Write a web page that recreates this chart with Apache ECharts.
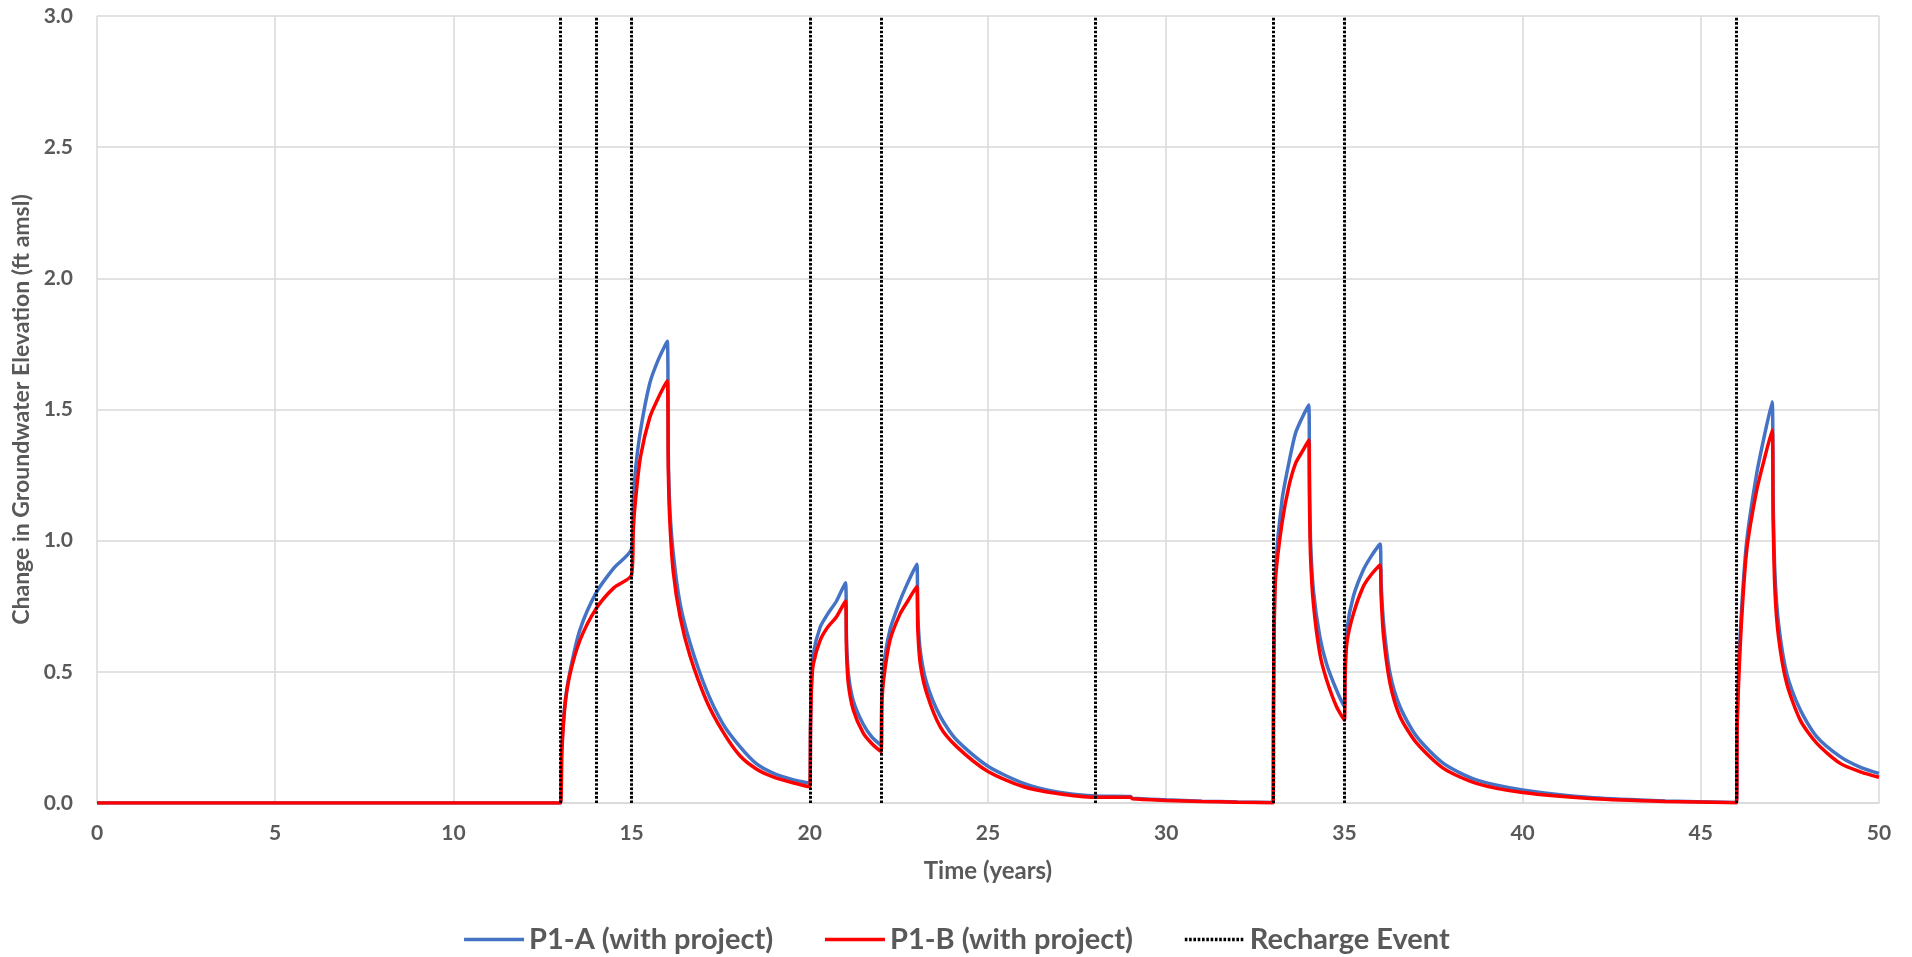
<!DOCTYPE html>
<html>
<head>
<meta charset="utf-8">
<script src="https://cdn.jsdelivr.net/npm/echarts@6/dist/echarts.min.js"></script>
<style>
html,body{margin:0;padding:0;background:#fff;}
#chart{width:1912px;height:957px;}
</style>
</head>
<body>
<div id="chart"></div>
<script>
// Time (years)
var timeYears = [0, 13, 13.04, 13.13, 13.27, 13.55, 14, 14.5, 15, 15.05, 15.11, 15.25, 15.51, 15.75, 16, 16.03, 16.07, 16.17, 16.36, 16.64, 17.1, 17.57, 18.04, 18.5, 18.97, 19.5, 20,
  20.02, 20.05, 20.1, 20.29, 20.5, 20.75, 21, 21.03, 21.08, 21.22, 21.5, 21.75, 22,
  22.02, 22.07, 22.25, 22.53, 22.75, 23, 23.03, 23.1, 23.28, 23.66, 24.12, 25, 26, 26.9, 28, 29, 29.05, 30, 31, 32, 33,
  33.01, 33.03, 33.07, 33.25, 33.44, 33.63, 33.82, 34, 34.02, 34.05, 34.13, 34.31, 34.5, 34.78, 35,
  35.02, 35.07, 35.25, 35.53, 35.75, 36, 36.03, 36.1, 36.28, 36.56, 37.03, 37.78, 38.7, 40, 42, 44, 46,
  46.02, 46.06, 46.15, 46.29, 46.57, 46.8, 47, 47.03, 47.08, 47.18, 47.41, 47.79, 48.25, 48.91, 49.5, 50];

// P1-A (with project)
var p1a = [0, 0, 0.2, 0.38, 0.5, 0.66, 0.80, 0.895, 0.97, 1.15, 1.27, 1.42, 1.60, 1.69, 1.76, 1.33, 1.13, 0.95, 0.76, 0.61, 0.43, 0.30, 0.215, 0.15, 0.114, 0.09, 0.075,
  0.30, 0.47, 0.57, 0.67, 0.72, 0.77, 0.84, 0.62, 0.495, 0.39, 0.30, 0.25, 0.22,
  0.40, 0.52, 0.66, 0.77, 0.84, 0.91, 0.72, 0.58, 0.456, 0.33, 0.24, 0.14, 0.075, 0.043, 0.027, 0.025, 0.018, 0.012, 0.007, 0.004, 0.002,
  0.35, 0.685, 0.90, 1.155, 1.295, 1.41, 1.47, 1.517, 1.25, 1.003, 0.81, 0.634, 0.53, 0.43, 0.367,
  0.52, 0.66, 0.787, 0.888, 0.94, 0.987, 0.84, 0.685, 0.494, 0.367, 0.253, 0.151, 0.088, 0.05, 0.02, 0.008, 0.002,
  0.3, 0.5, 0.75, 1.0, 1.257, 1.41, 1.53, 1.15, 0.876, 0.685, 0.494, 0.355, 0.253, 0.177, 0.135, 0.113];

// P1-B (with project)
var p1b = [0, 0, 0.19, 0.37, 0.49, 0.62, 0.74, 0.82, 0.87, 1.05, 1.155, 1.32, 1.47, 1.545, 1.61, 1.27, 1.08, 0.88, 0.71, 0.56, 0.39, 0.27, 0.18, 0.13, 0.10, 0.078, 0.062,
  0.28, 0.45, 0.53, 0.62, 0.67, 0.71, 0.77, 0.58, 0.456, 0.355, 0.266, 0.225, 0.196,
  0.37, 0.47, 0.62, 0.72, 0.77, 0.825, 0.66, 0.53, 0.418, 0.29, 0.215, 0.12, 0.062, 0.037, 0.022, 0.022, 0.016, 0.010, 0.006, 0.003, 0.001,
  0.33, 0.66, 0.86, 1.067, 1.206, 1.295, 1.34, 1.384, 1.15, 0.94, 0.76, 0.57, 0.47, 0.367, 0.316,
  0.48, 0.61, 0.72, 0.825, 0.87, 0.907, 0.79, 0.634, 0.456, 0.33, 0.228, 0.132, 0.075, 0.04, 0.016, 0.006, 0.001,
  0.28, 0.455, 0.71, 0.965, 1.193, 1.32, 1.422, 1.08, 0.81, 0.634, 0.456, 0.316, 0.228, 0.151, 0.118, 0.098];

// Recharge events (years)
var rechargeEvents = [13, 14, 15, 20, 22, 28, 33, 35, 46];

var seriesNames = ['P1-A (with project)', 'P1-B (with project)', 'Recharge Event'];

function pairs(xs, ys) {
  return xs.map(function (x, i) { return [x, ys[i]]; });
}

var FONT = 'Lato';
var GREY = '#595959';
var DOTS = [2.6, 1.7];

var chart = echarts.init(document.getElementById('chart'), null, {renderer: 'canvas'});
chart.setOption({
  animation: false,
  backgroundColor: '#ffffff',
  grid: {left: 97, right: 33, top: 16, bottom: 154, containLabel: false},
  legend: {
    left: 'center',
    top: 920,
    itemWidth: 60,
    itemHeight: 14,
    itemGap: 50,
    itemStyle: {opacity: 0},
    lineStyle: {width: 3.5},
    textStyle: {fontFamily: FONT, fontWeight: 'bold', fontSize: 29, color: GREY},
    data: seriesNames
  },
  xAxis: {
    type: 'value',
    min: 0, max: 50, interval: 5,
    name: 'Time (years)',
    nameLocation: 'middle',
    nameGap: 56,
    nameTextStyle: {fontFamily: FONT, fontWeight: 'bold', fontSize: 24, color: GREY},
    axisLine: {show: true, lineStyle: {color: '#d9d9d9', width: 1.5}},
    axisTick: {show: false},
    axisLabel: {fontFamily: FONT, fontWeight: 'bold', fontSize: 21, color: GREY, margin: 20},
    splitLine: {show: true, lineStyle: {color: '#d9d9d9', width: 1.5}}
  },
  yAxis: {
    type: 'value',
    min: 0, max: 3, interval: 0.5,
    name: 'Change in Groundwater Elevation (ft amsl)',
    nameLocation: 'middle',
    nameGap: 60,
    nameTextStyle: {fontFamily: FONT, fontWeight: 'bold', fontSize: 23, color: GREY},
    axisLine: {show: false},
    axisTick: {show: false},
    axisLabel: {fontFamily: FONT, fontWeight: 'bold', fontSize: 21, color: GREY, margin: 24,
      formatter: function (v) { return v.toFixed(1); }},
    splitLine: {show: true, lineStyle: {color: '#d9d9d9', width: 1.5}}
  },
  series: [
    {
      name: seriesNames[0], type: 'line', showSymbol: false, symbol: 'none',
      smooth: 0.25,
      data: pairs(timeYears, p1a),
      lineStyle: {color: '#4472C4', width: 3.5},
      itemStyle: {color: '#4472C4'},
      z: 2
    },
    {
      name: seriesNames[1], type: 'line', showSymbol: false, symbol: 'none',
      smooth: 0.25,
      data: pairs(timeYears, p1b),
      lineStyle: {color: '#FF0000', width: 3.5},
      itemStyle: {color: '#FF0000'},
      z: 3
    },
    {
      name: seriesNames[2], type: 'line', showSymbol: false, symbol: 'none',
      data: [],
      lineStyle: {color: '#000000', width: 3, type: DOTS},
      itemStyle: {color: '#000000'},
      z: 4,
      markLine: {
        silent: true,
        symbol: ['none', 'none'],
        label: {show: false},
        lineStyle: {color: '#000000', width: 3, type: DOTS},
        data: rechargeEvents.map(function (e) { return {xAxis: e}; })
      }
    }
  ]
});
</script>
</body>
</html>
